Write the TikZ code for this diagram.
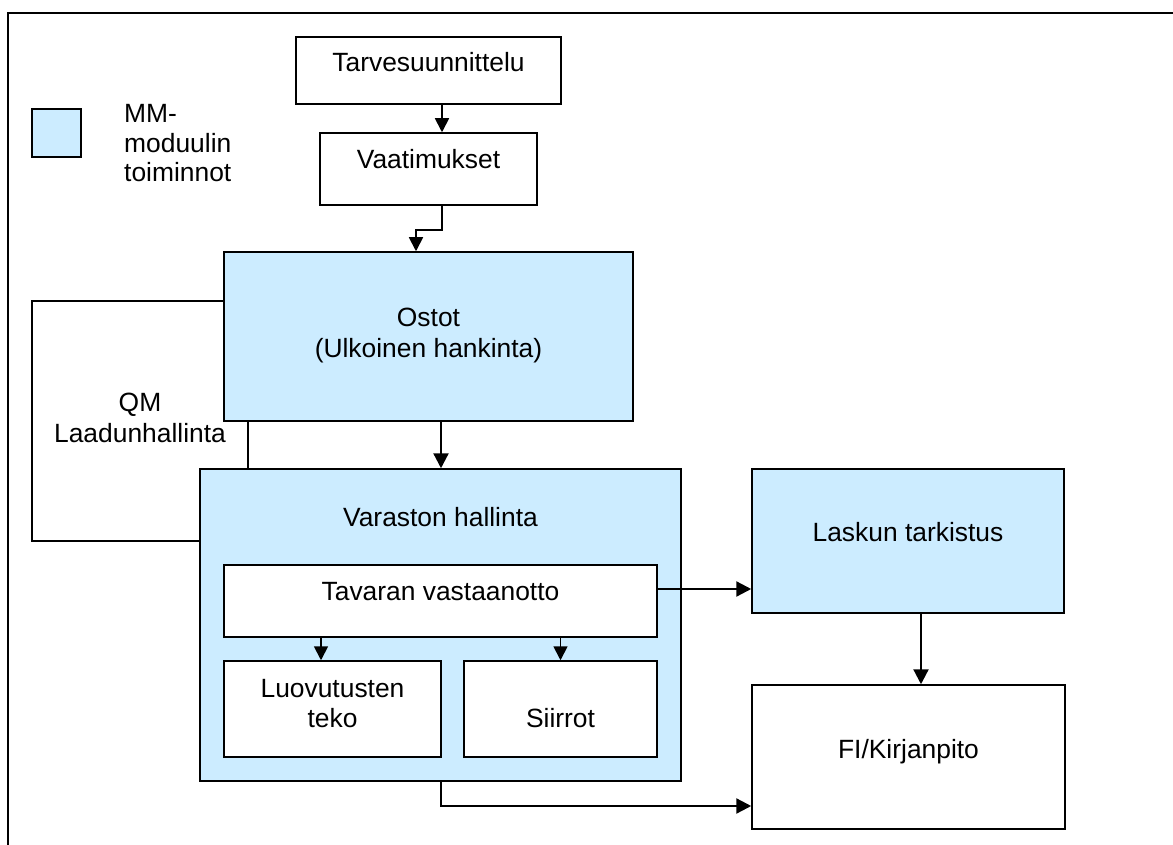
\documentclass[tikz,border=0pt]{standalone}
\usepackage{fontspec}
\setmainfont{Liberation Sans}
\usetikzlibrary{arrows.meta,fit}
\definecolor{mmblue}{HTML}{CCECFF}
\definecolor{ink}{HTML}{000000}
\begin{document}
\begin{tikzpicture}[x=1pt,y=-1pt,
  box/.style={draw=ink,line width=1.5pt,inner sep=0pt,fill=white},
  mmbox/.style={box,fill=mmblue},
  txt/.style={inner sep=0pt,text=ink,font=\fontsize{26.4}{30.5}\selectfont,
    text height=19pt,text depth=0pt,align=center},
  txttwo/.style={txt,text height=49.5pt,text depth=0pt},
  legtxt/.style={inner sep=0pt,text=ink,font=\fontsize{26.4}{29.5}\selectfont,
    text height=78pt,text depth=0pt,align=left},
  thinarrow/.style={draw=ink,line width=1.8pt,-{Triangle[length=14pt,width=14pt]}},
  thickarrow/.style={draw=ink,line width=2.3pt,-{Triangle[length=15pt,width=15pt]}},
  frameline/.style={draw=ink,line width=2pt}]

\useasboundingbox (0,0) rectangle (1173,845);
\fill[white] (0,0) rectangle (1173,845);

% outer frame
\draw[frameline] (8,845) -- (8,13) -- (1173,13);

% legend
\node[mmbox,fit={(32,109)(81,157)}] (legend) {};
\node[legtxt,anchor=west] (legendtext) at (124,143) {MM-\\moduulin\\toiminnot};

% planning chain
\node[box,fit={(296,37)(561,104)},
  label={[txt,yshift=8pt]center:Tarvesuunnittelu}] (tarv) {};
\node[box,fit={(320,133)(537,205)},
  label={[txt,yshift=10pt]center:Vaatimukset}] (vaat) {};

% quality management (sits behind purchasing and inventory)
\node[box,fit={(32,301)(248,541)},
  label={[txttwo,yshift=3.5pt]center:{QM\\Laadunhallinta}}] (qm) {};

% MM module functions
\node[mmbox,fit={(224,252)(633,421)},
  label={[txttwo,yshift=4pt]center:{Ostot\\(Ulkoinen hankinta)}}] (ostot) {};
\node[mmbox,fit={(200,469)(681,781)},
  label={[txt,yshift=108pt]center:Varaston hallinta}] (varasto) {};
\node[box,fit={(224,565)(657,637)},
  label={[txt,yshift=10pt]center:Tavaran vastaanotto}] (tavara) {};
\node[box,fit={(224,661)(441,757)},
  label={[txttwo,yshift=6pt]center:{Luovutusten\\teko}}] (luov) {};
\node[box,fit={(464,661)(657,757)},
  label={[txt,yshift=-8.5pt]center:Siirrot}] (siirrot) {};
\node[mmbox,fit={(752,469)(1064,613)},
  label={[txt,yshift=9pt]center:Laskun tarkistus}] (lasku) {};

% accounting
\node[box,fit={(752,685)(1065,829)},
  label={[txt,yshift=8pt]center:FI/Kirjanpito}] (fi) {};

% connector guides
\coordinate (xplan) at (442,0);
\coordinate (xbuy) at (416,0);
\coordinate (xstock) at (441,0);
\coordinate (xissue) at (321,0);
\coordinate (xinv) at (921,0);
\coordinate (yreceipt) at (0,589);
\coordinate (ypost) at (0,806);

% connectors
\draw[thinarrow] (tarv.south -| xplan) -- (vaat.north -| xplan);
\draw[thinarrow] (vaat.south -| xplan) -- ++(0,24) -| (ostot.north -| xbuy);
\draw[thickarrow] (ostot.south -| xstock) -- (varasto.north -| xstock);
\draw[thinarrow] (tavara.south -| xissue) -- (luov.north -| xissue);
\draw[thinarrow] (tavara.south -| siirrot.north) -- (siirrot.north);
\draw[thickarrow] (tavara.east |- yreceipt) -- (lasku.west |- yreceipt);
\draw[thickarrow] (lasku.south -| xinv) -- (fi.north -| xinv);
\draw[thickarrow] (varasto.south -| xstock) |- (fi.west |- ypost);
\end{tikzpicture}
\end{document}
